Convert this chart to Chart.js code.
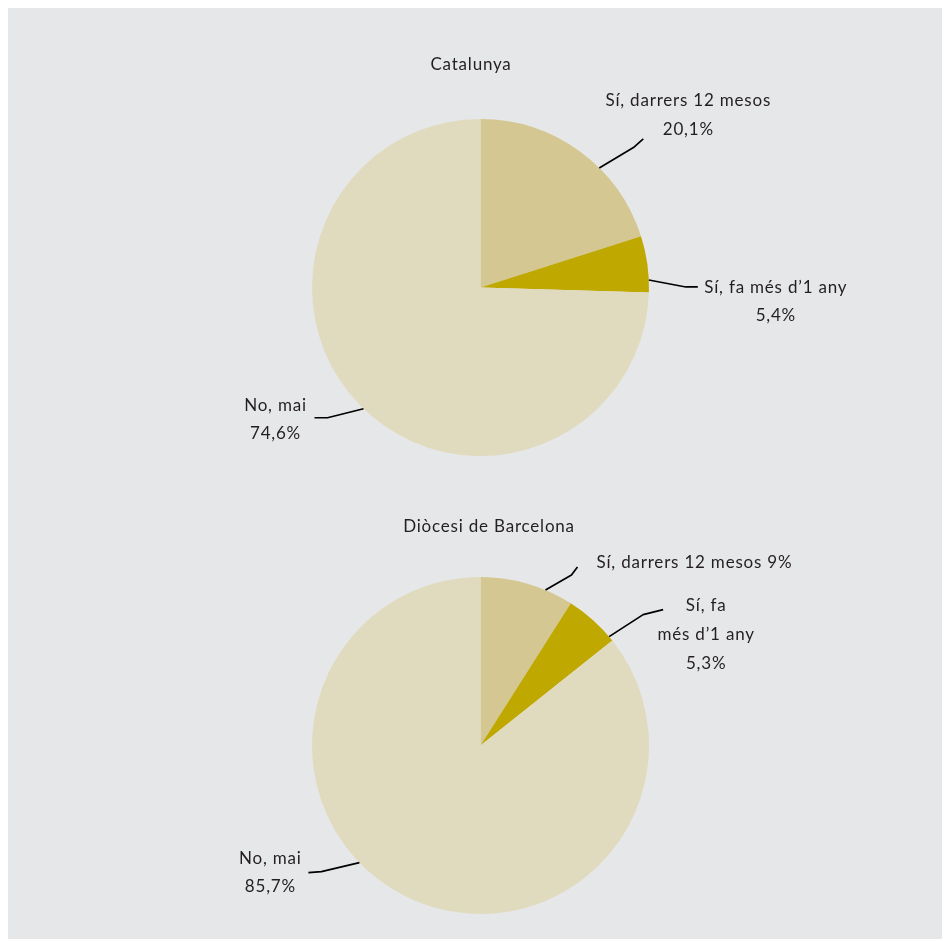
<!DOCTYPE html>
<html>
<head>
<meta charset="utf-8">
<script src="https://cdn.jsdelivr.net/npm/chart.js@4.4.1/dist/chart.umd.min.js"></script>
<style>
  html, body { margin: 0; padding: 0; background: #ffffff; }
  body { width: 945px; height: 941px; position: relative; overflow: hidden; }
  #panel { position: absolute; left: 8px; top: 8px; width: 934px; height: 931px; background: #e6e7e8; }
  canvas { position: absolute; left: 0; }
  #c1 { top: 0; }
  #c2 { top: 470px; }
</style>
</head>
<body>
<div id="panel"></div>
<canvas id="c1" width="945" height="470"></canvas>
<canvas id="c2" width="945" height="471"></canvas>
<script>
// ---- data ----
const categories = ['Sí, darrers 12 mesos', 'Sí, fa més d’1 any', 'No, mai'];
const catalunyaValues = [20.1, 5.4, 74.6];
const barcelonaValues = [9, 5.3, 85.7];
const chartTitles = ['Catalunya', 'Diòcesi de Barcelona'];

const fmt = v => v.toLocaleString('ca-ES', { maximumFractionDigits: 1 }) + '%';

// label text lines per chart (built from categories + values)
const catalunyaLabelLines = [
  [categories[0], fmt(catalunyaValues[0])],
  [categories[1], fmt(catalunyaValues[1])],
  [categories[2], fmt(catalunyaValues[2])]
];
const barcelonaLabelLines = [
  [categories[0] + ' ' + fmt(barcelonaValues[0])],
  ['Sí, fa', 'més d’1 any', fmt(barcelonaValues[1])],
  [categories[2], fmt(barcelonaValues[2])]
];

// ---- styles ----
const sliceColors = ['#d4c792', '#bfa800', '#e0dbbe'];
const FONT = '17px Lato, "Open Sans", sans-serif';
const LETTER_SPACING = '0.8px';
const TEXT_COLOR = '#231f20';

// leader layout: anchor fraction along arc; elbow/end offsets; text offsets (per line)
const catalunyaLayout = [
  { frac: 0.62, pts: [[35, -21], [44, -29]], text: [89, -67], lh: 29 },
  { frac: 0.78, pts: [[37, 7], [49, 7]], text: [127, 8], lh: 28 },
  { frac: 0.493, pts: [[-36, 9], [-49, 9]], text: [-88, -3], lh: 28 }
];
const barcelonaLayout = [
  { frac: 0.70, pts: [[26, -15], [32, -23]], text: [149, -28], lh: 29 },
  { frac: 0.91, pts: [[34, -22], [54, -27]], text: [97, -31], lh: 29 },
  { frac: 0.5655, pts: [[-38, 9], [-51, 10]], text: [-89, -4], lh: 28 }
];

function labelPlugin(title, titlePos, lines, layout) {
  return {
    id: 'pieLabels',
    afterDraw(chart) {
      const ctx = chart.ctx;
      const meta = chart.getDatasetMeta(0);
      ctx.save();
      ctx.font = FONT;
      if ('letterSpacing' in ctx) ctx.letterSpacing = LETTER_SPACING;
      ctx.fillStyle = TEXT_COLOR;
      ctx.textAlign = 'center';
      ctx.textBaseline = 'middle';
      ctx.fillText(title, titlePos[0], titlePos[1]);
      meta.data.forEach((arc, i) => {
        const p = arc.getProps(['x', 'y', 'startAngle', 'endAngle', 'outerRadius'], true);
        const L = layout[i];
        const a = p.startAngle + L.frac * (p.endAngle - p.startAngle);
        const ax = p.x + p.outerRadius * Math.cos(a);
        const ay = p.y + p.outerRadius * Math.sin(a);
        ctx.beginPath();
        ctx.strokeStyle = '#000000';
        ctx.lineWidth = 1.7;
        ctx.lineJoin = 'round';
        ctx.moveTo(ax, ay);
        L.pts.forEach(pt => ctx.lineTo(ax + pt[0], ay + pt[1]));
        ctx.stroke();
        lines[i].forEach((t, k) => {
          ctx.fillText(t, ax + L.text[0], ay + L.text[1] + k * L.lh);
        });
      });
      ctx.restore();
    }
  };
}

function makePie(id, values, padding, plugin) {
  return new Chart(document.getElementById(id), {
    type: 'pie',
    data: {
      labels: categories,
      datasets: [{
        data: values,
        backgroundColor: sliceColors,
        borderWidth: 0,
        hoverOffset: 0
      }]
    },
    options: {
      responsive: false,
      animation: false,
      devicePixelRatio: 1,
      layout: { padding: padding },
      plugins: { legend: { display: false }, tooltip: { enabled: false }, title: { display: false } }
    },
    plugins: [plugin]
  });
}

makePie('c1', catalunyaValues, { top: 119, bottom: 14, left: 312, right: 296 },
  labelPlugin(chartTitles[0], [471, 65], catalunyaLabelLines, catalunyaLayout));
makePie('c2', barcelonaValues, { top: 107, bottom: 27, left: 312, right: 296 },
  labelPlugin(chartTitles[1], [489, 57], barcelonaLabelLines, barcelonaLayout));
</script>
</body>
</html>
